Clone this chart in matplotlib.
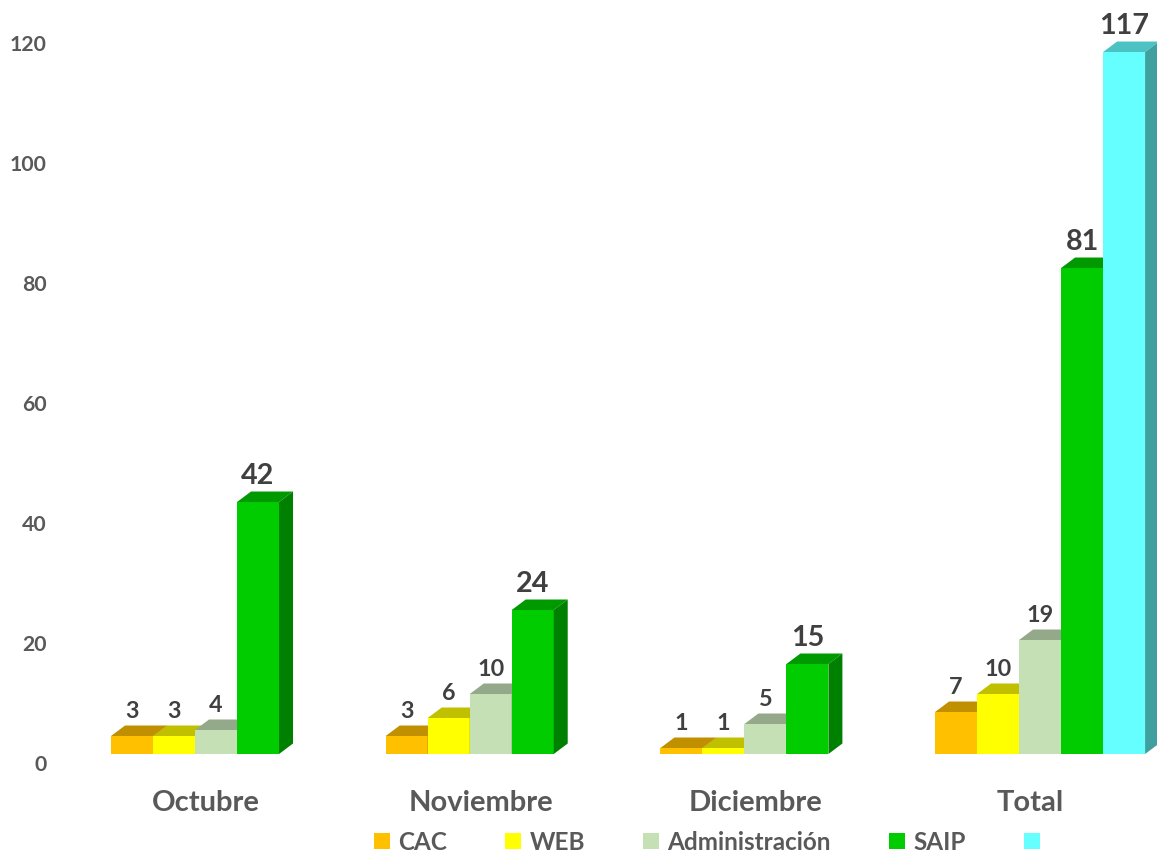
import numpy as np
import matplotlib
matplotlib.use("Agg")
import matplotlib.pyplot as plt
from matplotlib.patches import Polygon, Patch
from matplotlib.transforms import ScaledTranslation

# ---------------- data ----------------
categories = ["Octubre", "Noviembre", "Diciembre", "Total"]
series_names = ["CAC", "WEB", "Administración", "SAIP", ""]
cac = [3, 3, 1, 7]
web = [3, 6, 1, 10]
admin = [4, 10, 5, 19]
saip = [42, 24, 15, 81]
grand_total = [np.nan, np.nan, np.nan, 117]
yticks = [0, 20, 40, 60, 80, 100, 120]

# ---------------- style ----------------
front_colors = ["#FFC000", "#FFFF00", "#C5E0B4", "#00CC00", "#66FFFF"]
top_colors = ["#C09000", "#C0C000", "#94A98A", "#009A00", "#4DC2C2"]
side_colors = ["#A07800", "#A0A000", "#7D8F72", "#008000", "#40A0A0"]
label_sizes = [16.8, 16.8, 16.8, 20.7, 20.7]
FONT = "Lato"
AX_COLOR = "#595959"
LBL_COLOR = "#404040"

W, H, DPI = 1157, 855, 100
fig = plt.figure(figsize=(W / DPI, H / DPI), dpi=DPI)
ax = fig.add_axes([60 / W, 80 / H, 1 - 60 / W, 775 / H])
ax.set_xlim(-0.568, 3.4256)
ax.set_ylim(-3.5, 125.67)

w = 0.1529          # bar width (data units)
ddx = 14 / 274.67   # depth offset in x (data units)
ddy = 10.5 / 6.0    # depth offset in y (data units)

all_series = [cac, web, admin, saip, grand_total]
xs = np.arange(len(categories))
for j, vals in enumerate(all_series):
    vals = np.array(vals, dtype=float)
    x = xs + (j - 2) * w
    z = 2 + j
    ax.bar(x, np.nan_to_num(vals), width=w, color=front_colors[j],
           edgecolor="none", zorder=z, clip_on=False)
    for xi, v in zip(x, vals):
        if np.isnan(v):
            continue
        l, r = xi - w / 2, xi + w / 2
        top = Polygon([(l, v), (r, v), (r + ddx, v + ddy), (l + ddx, v + ddy)],
                      closed=True, facecolor=top_colors[j], edgecolor="none",
                      zorder=z, clip_on=False)
        side = Polygon([(r, 0), (r + ddx, ddy), (r + ddx, v + ddy), (r, v)],
                       closed=True, facecolor=side_colors[j], edgecolor="none",
                       zorder=z, clip_on=False)
        ax.add_patch(top)
        ax.add_patch(side)
        ax.annotate(f"{int(v)}", xy=(xi, v), xytext=(0, 18),
                    textcoords="offset pixels", ha="center", va="baseline",
                    fontsize=label_sizes[j], fontweight="bold",
                    family=FONT, color=LBL_COLOR, zorder=20)

# axes styling
for s in ax.spines.values():
    s.set_visible(False)
ax.set_yticks(yticks)
ax.set_yticklabels([str(t) for t in yticks])
ax.tick_params(axis="y", length=0, pad=9.4)
ax.tick_params(axis="x", length=0, pad=11)
ax.set_xticks(xs)
ax.set_xticklabels(categories)
for lab in ax.get_yticklabels():
    lab.set_fontfamily(FONT)
    lab.set_fontweight("bold")
    lab.set_fontsize(15.3)
    lab.set_color(AX_COLOR)
    lab.set_transform(lab.get_transform() + ScaledTranslation(0, -9 / DPI, fig.dpi_scale_trans))
for lab in ax.get_xticklabels():
    lab.set_fontfamily(FONT)
    lab.set_fontweight("bold")
    lab.set_fontsize(21)
    lab.set_color(AX_COLOR)
    lab.set_transform(lab.get_transform() + ScaledTranslation(-10 / DPI, 0, fig.dpi_scale_trans))

# legend
handles = [Patch(facecolor=c, edgecolor="none") for c in front_colors]
leg = fig.legend(handles, series_names, loc="center left",
                 bbox_to_anchor=(374 / W, 1 - 842 / H), ncol=5, frameon=False,
                 prop={"family": FONT, "weight": "bold", "size": 17.5},
                 handlelength=0.66, handleheight=0.66, handletextpad=0.33,
                 columnspacing=2.4, borderpad=0, borderaxespad=0)
for t in leg.get_texts():
    t.set_color(AX_COLOR)

fig.savefig("out.png", dpi=DPI)
